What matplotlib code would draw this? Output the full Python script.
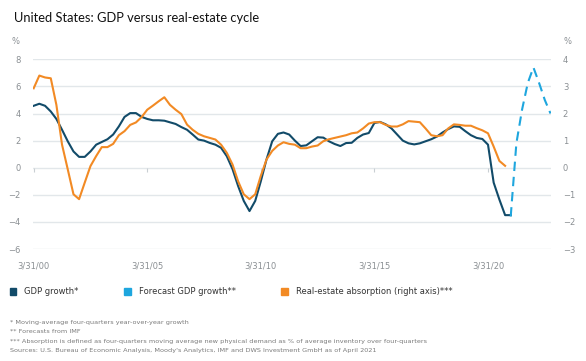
import numpy as np
import pandas as pd
import matplotlib
matplotlib.use("Agg")
import matplotlib.pyplot as plt
import matplotlib.dates as mdates
from matplotlib.patches import Patch

# quarterly values, 3/31/00 .. 3/31/21 (left axis, %)
gdp_growth = [4.57, 4.72, 4.57, 4.15, 3.6, 2.8, 1.95, 1.2, 0.8, 0.8, 1.2, 1.7,
              1.9, 2.1, 2.45, 3.05, 3.75, 4.03, 4.03, 3.75, 3.6, 3.5, 3.5, 3.47,
              3.35, 3.23, 3.0, 2.8, 2.45, 2.08, 2.0, 1.83, 1.7, 1.47, 0.85, -0.1,
              -1.35, -2.45, -3.2, -2.45, -1.0, 0.6, 1.95, 2.5, 2.6, 2.45, 2.0, 1.6,
              1.65, 1.95, 2.25, 2.22, 1.95, 1.75, 1.6, 1.82, 1.84, 2.2, 2.45, 2.56,
              3.3, 3.38, 3.2, 2.9, 2.45, 2.0, 1.8, 1.72, 1.8, 1.95, 2.1, 2.3,
              2.6, 2.85, 3.05, 3.02, 2.7, 2.4, 2.2, 2.12, 1.7, -1.1, -2.35, -3.5,
              -3.5]

# quarterly values, 3/31/00 .. 12/31/20 (right axis, %)
absorption = [2.93, 3.4, 3.33, 3.3, 2.32, 0.85, -0.06, -0.98, -1.16, -0.55, 0.06, 0.43,
              0.76, 0.76, 0.88, 1.2, 1.35, 1.58, 1.67, 1.87, 2.14, 2.29, 2.45, 2.6,
              2.32, 2.14, 1.98, 1.59, 1.4, 1.25, 1.16, 1.1, 1.04, 0.85, 0.55, 0.12,
              -0.5, -0.98, -1.16, -0.98, -0.3, 0.3, 0.62, 0.82, 0.94, 0.88, 0.85, 0.72,
              0.72, 0.78, 0.82, 0.98, 1.05, 1.1, 1.15, 1.2, 1.27, 1.3, 1.45, 1.63,
              1.68, 1.68, 1.58, 1.52, 1.52, 1.6, 1.72, 1.7, 1.68, 1.45, 1.2, 1.16,
              1.2, 1.45, 1.6, 1.58, 1.55, 1.55, 1.46, 1.38, 1.27, 0.78, 0.25, 0.07]

# IMF forecast, 3/31/21 .. 12/31/22
forecast = [-3.6, 1.8, 4.3, 6.26, 7.4, 6.26, 5.0, 4.0]

tick_labels = ["3/31/00", "3/31/05", "3/31/10", "3/31/15", "3/31/20"]
tick_dates = pd.to_datetime(["2000-03-31", "2005-03-31", "2010-03-31", "2015-03-31", "2020-03-31"])

gdp_dates = pd.date_range("2000-03-31", periods=len(gdp_growth), freq="QE")
abs_dates = pd.date_range("2000-03-31", periods=len(absorption), freq="QE")
fc_dates = pd.date_range("2021-03-31", periods=len(forecast), freq="QE")

dark_blue = "#124b69"
light_blue = "#1ea6de"
orange = "#f28a24"
grid_col = "#e2e7ea"
tick_col = "#8a8f93"

fig = plt.figure(figsize=(5.86, 3.61), dpi=100)
ax = fig.add_axes([0.0563, 0.3102, 0.8840, 0.5255])
ax2 = ax.twinx()

ax.set_ylim(-6, 8)
ax2.set_ylim(-3, 4)
ax.set_xlim(pd.Timestamp("2000-03-20"), pd.Timestamp("2023-01-08"))
ax.set_yticks(range(-6, 9, 2))
ax2.set_yticks(range(-3, 5))
for y in range(-6, 9, 2):
    ax.axhline(y, color=grid_col, lw=1.0, zorder=0)

# small x ticks hanging off the zero line
ax.vlines(tick_dates, -0.28, 0, color="#c9cfd3", lw=0.8, zorder=1)

ax.plot(gdp_dates, gdp_growth, color=dark_blue, lw=1.5, zorder=3)
ax.plot(fc_dates, forecast, color=light_blue, lw=1.5, dashes=(4.5, 2.8), zorder=3)
ax2.plot(abs_dates, absorption, color=orange, lw=1.5, zorder=3)

ax.set_xticks(tick_dates)
ax.set_xticklabels(tick_labels)
ax.set_yticklabels(["\u22126", "\u22124", "\u22122", "0", "2", "4", "6", "8"])
ax2.set_yticklabels(["\u22123", "\u22122", "\u22121", "0", "1", "2", "3", "4"])
ax.tick_params(axis="x", length=0, pad=9, labelsize=6, labelcolor=tick_col)
ax.tick_params(axis="y", length=0, pad=9, labelsize=6, labelcolor=tick_col)
ax2.tick_params(axis="y", length=0, pad=8.5, labelsize=6, labelcolor=tick_col)
for a in (ax, ax2):
    for s in a.spines.values():
        s.set_visible(False)

fig.text(15 / 586, 1 - 42 / 361, "%", fontsize=6, color=tick_col, ha="center", va="center")
fig.text(567 / 586, 1 - 42 / 361, "%", fontsize=6, color=tick_col, ha="center", va="center")

fig.text(14 / 586, 1 - 18 / 361, "United States: GDP versus real-estate cycle",
         fontsize=9.3, family="Lato", color="#111111", va="center", ha="left")

handles = [Patch(color=dark_blue), Patch(color=light_blue), Patch(color=orange)]
labels = ["GDP growth*", "Forecast GDP growth**", "Real-estate absorption (right axis)***"]
fig.legend(handles, labels, loc="center left", bbox_to_anchor=(2 / 586, 1 - 292 / 361),
           ncol=3, frameon=False, fontsize=6.0, handlelength=0.8, handleheight=0.8,
           handletextpad=1.0, columnspacing=5.4, labelcolor="#333333")

notes = ["* Moving-average four-quarters year-over-year growth",
         "** Forecasts from IMF",
         "*** Absorption is defined as four-quarters moving average new physical demand as % of average inventory over four-quarters",
         "Sources: U.S. Bureau of Economic Analysis, Moody's Analytics, IMF and DWS Investment GmbH as of April 2021"]
for i, n in enumerate(notes):
    fig.text(10 / 586, 1 - (322.5 + 9.3 * i) / 361, n, fontsize=4.65, color="#7a7a7a", va="center")

fig.savefig("out.png", dpi=100)
